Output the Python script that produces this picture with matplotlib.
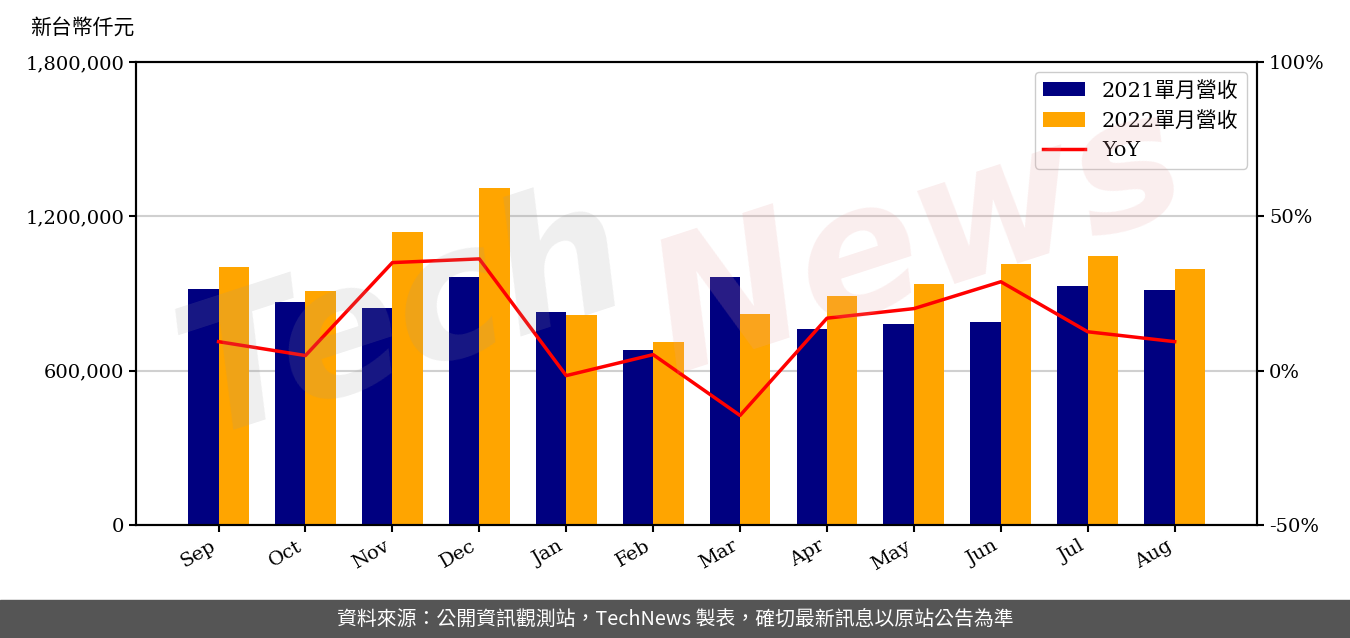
import numpy as np
import matplotlib.pyplot as plt
from matplotlib.ticker import FuncFormatter

plt.rcParams['font.family'] = ['DejaVu Serif', 'Noto Sans CJK TC']

months = ['Sep', 'Oct', 'Nov', 'Dec', 'Jan', 'Feb', 'Mar', 'Apr', 'May', 'Jun', 'Jul', 'Aug']
rev2021 = [917000, 867000, 844000, 964000, 828000, 680000, 964000, 762000, 781000, 789000, 929000, 914000]
rev2022 = [1003000, 910000, 1139000, 1310000, 816000, 711000, 820000, 890000, 937000, 1015000, 1046000, 995000]
yoy = [9.4, 4.9, 35.0, 36.2, -1.6, 5.2, -14.5, 17.0, 20.1, 28.8, 12.6, 9.4]

fig = plt.figure(figsize=(13.5, 6.38), dpi=100)
ax = fig.add_axes([0.1007, 0.177, 0.8306, 0.726])
x = np.arange(len(months))
w = 0.35
ax.bar(x - w/2, rev2021, w, color='#000080', label='2021單月營收', zorder=2)
ax.bar(x + w/2, rev2022, w, color='#FFA500', label='2022單月營收', zorder=2)
ax.set_ylim(0, 1800000)
ax.set_xlim(-0.95, 11.95)
ax.set_yticks([0, 600000, 1200000, 1800000])
ax.yaxis.set_major_formatter(FuncFormatter(lambda v, p: f'{int(v):,}'))
ax.grid(axis='y', color='#d0d0d0', lw=1.5, zorder=0)
ax.set_xticks(x)
ax.set_xticklabels(months, rotation=30, ha='right')
ax.tick_params(labelsize=14, width=1.5, length=5)
for s in ax.spines.values():
    s.set_linewidth(1.5)

ax2 = ax.twinx()
ax2.plot(x, yoy, color='red', lw=2.5, label='YoY', zorder=3)
ax2.set_ylim(-50, 100)
ax2.set_yticks([-50, 0, 50, 100])
ax2.yaxis.set_major_formatter(FuncFormatter(lambda v, p: f'{int(v)}%'))
ax2.tick_params(labelsize=14, width=1.5, length=5)
for s in ax2.spines.values():
    s.set_linewidth(1.5)

h1, l1 = ax.get_legend_handles_labels()
h2, l2 = ax2.get_legend_handles_labels()
ax2.legend(h1 + h2, l1 + l2, loc='upper right', fontsize=15, framealpha=1,
           edgecolor='#cccccc', borderpad=0.4, labelspacing=0.5)

# watermark
fig.text(0.30, 0.50, 'Tech', fontsize=130, color='#999999', alpha=0.16,
         rotation=18, ha='center', va='center', style='italic', weight='bold',
         family='DejaVu Sans')
fig.text(0.68, 0.62, 'News', fontsize=130, color='#e8a0a0', alpha=0.18,
         rotation=18, ha='center', va='center', style='italic', weight='bold',
         family='DejaVu Sans')

fig.text(0.022, 0.957, '新台幣仟元', fontsize=15, ha='left', va='center',
         family=['Noto Sans CJK TC'])

fig.patches.append(plt.Rectangle((0, 0), 1, 38/638, transform=fig.transFigure,
                                 color='#555555', zorder=0))
fig.text(0.5, 19/638, '資料來源：公開資訊觀測站，TechNews 製表，確切最新訊息以原站公告為準',
         fontsize=14.3, color='white', ha='center', va='center',
         family=['Noto Sans CJK TC'])

fig.savefig('out.png', dpi=100)
